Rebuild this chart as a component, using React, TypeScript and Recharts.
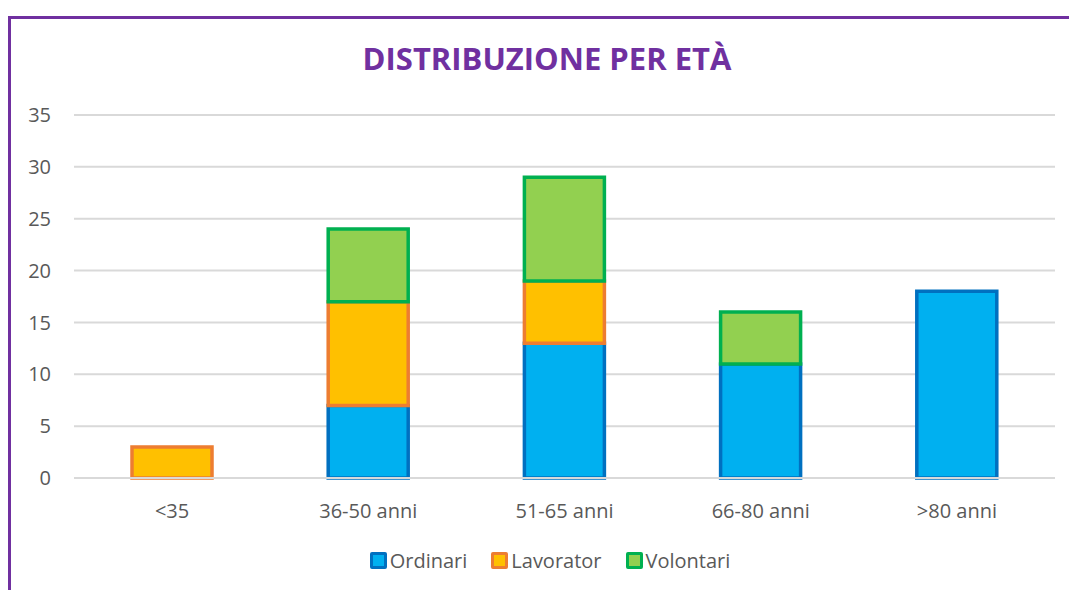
import React from 'react';
import { Bar, BarChart, CartesianGrid, Legend, XAxis, YAxis } from 'recharts';

const categories = ['<35', '36-50 anni', '51-65 anni', '66-80 anni', '>80 anni'];
const ordinari = [0, 7, 13, 11, 18];
const lavorator = [3, 10, 6, 0, 0];
const volontari = [0, 7, 10, 5, 0];
const yTicks = [0, 5, 10, 15, 20, 25, 30, 35];

const series = [
    { key: 'Ordinari', fill: '#00B0F0', stroke: '#0070C0' },
    { key: 'Lavorator', fill: '#FFC000', stroke: '#ED7D31' },
    { key: 'Volontari', fill: '#92D050', stroke: '#00B050' },
];

const chartData = categories.map((name, i) => ({
    name,
    Ordinari: ordinari[i],
    Lavorator: lavorator[i],
    Volontari: volontari[i],
}));

const FONT = '"Open Sans", sans-serif';

function LegendContent() {
    return (
        <div style={{ display: 'flex', justifyContent: 'center', gap: 24, fontFamily: FONT, fontSize: 20, color: '#595959' }}>
            {series.map((s) => (
                <div key={s.key} style={{ display: 'flex', alignItems: 'center' }}>
                    <span
                        style={{
                            display: 'inline-block',
                            width: 11,
                            height: 11,
                            background: s.fill,
                            border: `3px solid ${s.stroke}`,
                            borderRadius: 2,
                            marginRight: 3,
                        }}
                    />
                    <span>{s.key}</span>
                </div>
            ))}
        </div>
    );
}

export default function App() {
    return (
        <div style={{ position: 'absolute', left: 0, top: 0, width: 1069, height: 590, background: '#fff', overflow: 'hidden' }}>
            <div
                style={{
                    position: 'absolute',
                    left: 8,
                    top: 16,
                    width: 1100,
                    height: 700,
                    borderLeft: '3px solid #7030A0',
                    borderTop: '3px solid #7030A0',
                }}
            />
            <div
                style={{
                    position: 'absolute',
                    left: 0,
                    top: 37,
                    width: 1094,
                    textAlign: 'center',
                    fontFamily: FONT,
                    fontWeight: 700,
                    fontSize: 31,
                    color: '#7030A0',
                }}
            >
                DISTRIBUZIONE PER ETÀ
            </div>
            <BarChart
                width={1069}
                height={590}
                data={chartData}
                margin={{ top: 115, right: 14, bottom: 45, left: 0 }}
                barSize={80}
                style={{ position: 'absolute', left: 0, top: 0 }}
            >
                <CartesianGrid vertical={false} stroke="#D9D9D9" strokeWidth={2} />
                <XAxis
                    dataKey="name"
                    tickLine={false}
                    axisLine={{ stroke: '#D9D9D9', strokeWidth: 2 }}
                    tick={{ fill: '#595959', fontSize: 20, fontFamily: FONT }}
                    tickMargin={20}
                    height={40}
                />
                <YAxis
                    domain={[0, 35]}
                    ticks={yTicks}
                    tickLine={false}
                    axisLine={false}
                    width={74}
                    tick={{ fill: '#595959', fontSize: 20, fontFamily: FONT }}
                    tickMargin={17}
                />
                <Legend content={<LegendContent />} wrapperStyle={{ top: 547, left: 0, width: 1100 }} />
                {series.map((s) => (
                    <Bar
                        key={s.key}
                        dataKey={s.key}
                        stackId="a"
                        fill={s.fill}
                        stroke={s.stroke}
                        strokeWidth={3.5}
                        isAnimationActive={false}
                    />
                ))}
            </BarChart>
        </div>
    );
}
